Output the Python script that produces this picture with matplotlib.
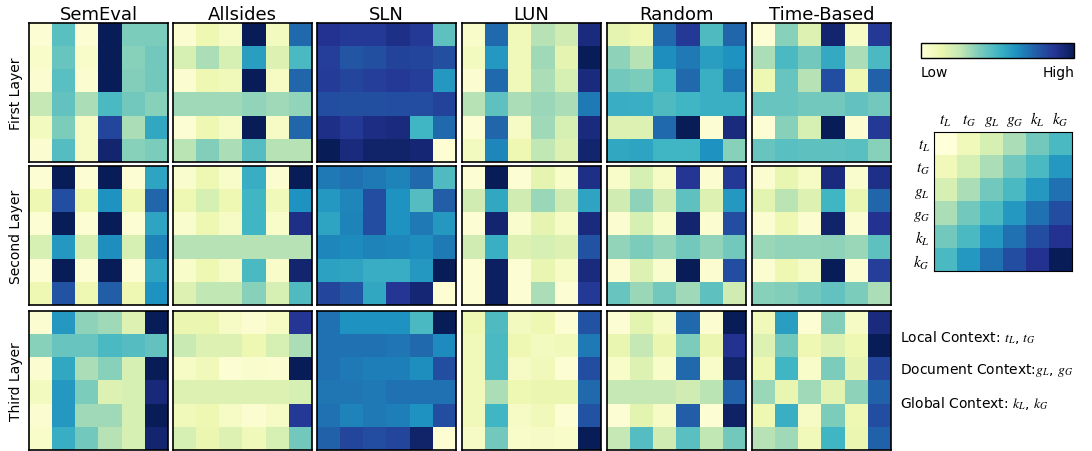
import numpy as np
import matplotlib
matplotlib.use('Agg')
from matplotlib import pyplot as plt

plt.rcParams['mathtext.fontset'] = 'stix'

datasets = ['SemEval', 'Allsides', 'SLN', 'LUN', 'Random', 'Time-Based']
layers = ['First Layer', 'Second Layer', 'Third Layer']

# attention maps, one 6x6 per (layer, dataset)
first_layer = [
    [[0.02, 0.45, 0.02, 1.0, 0.38, 0.38],
     [0.05, 0.42, 0.05, 1.0, 0.36, 0.40],
     [0.03, 0.45, 0.03, 1.0, 0.37, 0.40],
     [0.25, 0.43, 0.30, 0.48, 0.40, 0.36],
     [0.08, 0.38, 0.06, 0.82, 0.30, 0.55],
     [0.03, 0.46, 0.06, 0.95, 0.36, 0.38]],
    [[0.03, 0.12, 0.06, 1.0, 0.08, 0.72],
     [0.20, 0.30, 0.20, 0.58, 0.18, 0.48],
     [0.03, 0.12, 0.10, 1.0, 0.07, 0.73],
     [0.32, 0.32, 0.32, 0.34, 0.32, 0.34],
     [0.02, 0.12, 0.06, 1.0, 0.06, 0.73],
     [0.27, 0.37, 0.30, 0.46, 0.28, 0.28]],
    [[0.88, 0.86, 0.86, 0.90, 0.86, 0.44],
     [0.84, 0.77, 0.79, 0.83, 0.82, 0.79],
     [0.85, 0.82, 0.84, 0.86, 0.84, 0.60],
     [0.80, 0.79, 0.79, 0.80, 0.80, 0.83],
     [0.90, 0.86, 0.91, 0.92, 0.50, 0.72],
     [1.00, 0.92, 0.96, 0.96, 0.94, 0.02]],
    [[0.05, 0.72, 0.10, 0.28, 0.22, 0.92],
     [0.08, 0.60, 0.10, 0.32, 0.15, 1.00],
     [0.03, 0.72, 0.10, 0.30, 0.20, 0.92],
     [0.28, 0.44, 0.30, 0.33, 0.30, 0.68],
     [0.02, 0.73, 0.06, 0.32, 0.20, 0.92],
     [0.08, 0.65, 0.12, 0.26, 0.18, 0.95]],
    [[0.15, 0.12, 0.72, 0.86, 0.47, 0.73],
     [0.35, 0.28, 0.63, 0.68, 0.58, 0.62],
     [0.40, 0.38, 0.50, 0.72, 0.52, 0.68],
     [0.53, 0.52, 0.47, 0.50, 0.52, 0.52],
     [0.18, 0.18, 0.72, 1.00, 0.02, 0.92],
     [0.55, 0.56, 0.50, 0.50, 0.62, 0.36]],
    [[0.02, 0.36, 0.18, 0.95, 0.06, 0.86],
     [0.30, 0.48, 0.40, 0.54, 0.30, 0.48],
     [0.12, 0.42, 0.28, 0.80, 0.12, 0.74],
     [0.42, 0.42, 0.40, 0.40, 0.43, 0.40],
     [0.02, 0.36, 0.20, 1.00, 0.03, 0.86],
     [0.42, 0.45, 0.44, 0.44, 0.45, 0.36]],
]

second_layer = [
    [[0.02, 1.00, 0.02, 1.00, 0.02, 0.56],
     [0.12, 0.80, 0.12, 0.62, 0.12, 0.73],
     [0.02, 1.00, 0.02, 1.00, 0.02, 0.56],
     [0.20, 0.60, 0.20, 0.63, 0.20, 0.66],
     [0.02, 1.00, 0.02, 1.00, 0.02, 0.56],
     [0.12, 0.78, 0.12, 0.75, 0.12, 0.62]],
    [[0.04, 0.12, 0.05, 0.53, 0.03, 1.00],
     [0.12, 0.20, 0.12, 0.50, 0.10, 0.62],
     [0.04, 0.12, 0.06, 0.50, 0.05, 0.90],
     [0.28, 0.28, 0.28, 0.28, 0.28, 0.28],
     [0.05, 0.12, 0.06, 0.48, 0.05, 0.95],
     [0.18, 0.26, 0.26, 0.36, 0.20, 0.47]],
    [[0.68, 0.70, 0.68, 0.66, 0.72, 0.47],
     [0.60, 0.65, 0.80, 0.62, 0.46, 0.75],
     [0.56, 0.66, 0.80, 0.62, 0.68, 0.60],
     [0.65, 0.64, 0.66, 0.65, 0.63, 0.68],
     [0.57, 0.56, 0.53, 0.53, 0.60, 1.00],
     [0.82, 0.77, 0.55, 0.87, 0.94, 0.02]],
    [[0.02, 1.00, 0.02, 0.15, 0.05, 0.90],
     [0.22, 0.55, 0.22, 0.33, 0.22, 0.56],
     [0.02, 0.95, 0.04, 0.15, 0.06, 0.92],
     [0.22, 0.52, 0.18, 0.20, 0.18, 0.78],
     [0.02, 0.98, 0.02, 0.14, 0.06, 0.92],
     [0.02, 0.98, 0.02, 0.30, 0.02, 0.86]],
    [[0.05, 0.20, 0.06, 0.87, 0.03, 0.86],
     [0.22, 0.35, 0.22, 0.44, 0.18, 0.60],
     [0.03, 0.20, 0.05, 0.95, 0.03, 0.80],
     [0.34, 0.38, 0.34, 0.40, 0.34, 0.40],
     [0.03, 0.18, 0.04, 1.00, 0.03, 0.80],
     [0.42, 0.33, 0.40, 0.32, 0.44, 0.22]],
    [[0.03, 0.14, 0.06, 0.92, 0.04, 0.90],
     [0.16, 0.27, 0.18, 0.50, 0.14, 0.73],
     [0.03, 0.12, 0.03, 0.96, 0.03, 0.88],
     [0.33, 0.34, 0.34, 0.35, 0.33, 0.44],
     [0.03, 0.12, 0.06, 1.00, 0.03, 0.84],
     [0.36, 0.37, 0.40, 0.43, 0.38, 0.30]],
]

third_layer = [
    [[0.03, 0.60, 0.35, 0.32, 0.18, 1.00],
     [0.36, 0.42, 0.42, 0.48, 0.46, 0.43],
     [0.03, 0.55, 0.30, 0.36, 0.20, 1.00],
     [0.08, 0.60, 0.38, 0.18, 0.20, 0.93],
     [0.03, 0.60, 0.32, 0.32, 0.20, 1.00],
     [0.05, 0.53, 0.40, 0.28, 0.20, 0.95]],
    [[0.13, 0.13, 0.06, 0.03, 0.07, 0.87],
     [0.24, 0.18, 0.18, 0.12, 0.20, 0.30],
     [0.06, 0.10, 0.02, 0.04, 0.03, 1.00],
     [0.18, 0.18, 0.18, 0.18, 0.18, 0.20],
     [0.10, 0.12, 0.06, 0.03, 0.06, 0.86],
     [0.20, 0.13, 0.18, 0.10, 0.20, 0.40]],
    [[0.70, 0.62, 0.62, 0.62, 0.48, 1.00],
     [0.70, 0.70, 0.70, 0.69, 0.72, 0.64],
     [0.70, 0.68, 0.67, 0.67, 0.63, 0.80],
     [0.69, 0.69, 0.68, 0.70, 0.70, 0.70],
     [0.70, 0.66, 0.68, 0.67, 0.62, 0.80],
     [0.74, 0.82, 0.80, 0.82, 0.96, 0.02]],
    [[0.12, 0.47, 0.08, 0.12, 0.02, 0.78],
     [0.10, 0.48, 0.12, 0.08, 0.10, 0.68],
     [0.10, 0.48, 0.06, 0.10, 0.02, 0.80],
     [0.10, 0.30, 0.12, 0.13, 0.13, 0.72],
     [0.10, 0.50, 0.06, 0.10, 0.02, 0.78],
     [0.06, 0.40, 0.05, 0.06, 0.05, 1.00]],
    [[0.02, 0.16, 0.06, 0.72, 0.03, 1.00],
     [0.14, 0.25, 0.13, 0.38, 0.13, 0.88],
     [0.05, 0.18, 0.05, 0.72, 0.05, 0.96],
     [0.25, 0.25, 0.25, 0.22, 0.27, 0.74],
     [0.02, 0.16, 0.06, 0.75, 0.02, 0.97],
     [0.25, 0.46, 0.22, 0.45, 0.26, 0.40]],
    [[0.10, 0.58, 0.02, 0.37, 0.06, 0.92],
     [0.18, 0.40, 0.12, 0.18, 0.12, 1.00],
     [0.12, 0.50, 0.05, 0.38, 0.15, 0.82],
     [0.33, 0.14, 0.32, 0.16, 0.35, 0.74],
     [0.12, 0.52, 0.06, 0.38, 0.12, 0.80],
     [0.28, 0.32, 0.10, 0.50, 0.13, 0.74]],
]

key_labels = [r'$t_L$', r'$t_G$', r'$g_L$', r'$g_G$', r'$k_L$', r'$k_G$']
key_values = [
    [0.00, 0.10, 0.20, 0.30, 0.40, 0.48],
    [0.10, 0.20, 0.30, 0.40, 0.48, 0.60],
    [0.20, 0.30, 0.40, 0.48, 0.60, 0.70],
    [0.30, 0.40, 0.48, 0.60, 0.70, 0.80],
    [0.40, 0.48, 0.60, 0.70, 0.80, 0.88],
    [0.48, 0.60, 0.70, 0.80, 0.88, 1.00],
]
context_lines = ['Local Context: $t_L$, $t_G$',
                 'Document Context:$g_L$, $g_G$',
                 'Global Context: $k_L$, $k_G$']

cmap = 'YlGnBu'
W, H = 1092., 452.
fig = plt.figure(figsize=(W/100., H/100.), dpi=100)

x0s = [29, 173, 317, 462, 607, 752]
y0s = [24, 167, 312]
pw = 139
ph = 139

all_layers = [first_layer, second_layer, third_layer]
for r in range(3):
    for c in range(6):
        ax = fig.add_axes([x0s[c]/W, 1-(y0s[r]+ph)/H, pw/W, ph/H])
        ax.imshow(np.array(all_layers[r][c]), cmap=cmap, vmin=0, vmax=1,
                  aspect='auto', interpolation='nearest')
        ax.set_xticks([])
        ax.set_yticks([])
        for axis in ['top', 'bottom', 'left', 'right']:
            ax.spines[axis].set_linewidth(1.2)
        if r == 0:
            ax.set_title(datasets[c], fontsize=13, pad=3)
        if c == 0:
            ax.set_ylabel(layers[r], fontsize=10, labelpad=4)

# colour bar
cax = fig.add_axes([921/W, 1-59/H, 153/W, 15/H])
sm = plt.cm.ScalarMappable(cmap=cmap, norm=plt.Normalize(0, 1))
cb = fig.colorbar(sm, cax=cax, orientation='horizontal')
cb.set_ticks([])
cb.outline.set_linewidth(1.0)
fig.text(921/W, 1-73/H, 'Low', fontsize=10, ha='left', va='center')
fig.text(1074/W, 1-73/H, 'High', fontsize=10, ha='right', va='center')

# key heatmap
kax = fig.add_axes([934/W, 1-272/H, 138/W, 139/H])
kax.imshow(np.array(key_values), cmap=cmap, vmin=0, vmax=1, aspect='auto',
           interpolation='nearest')
kax.set_xticks(range(6))
kax.set_xticklabels(key_labels, fontsize=11)
kax.set_yticks(range(6))
kax.set_yticklabels(key_labels, fontsize=11)
kax.xaxis.tick_top()
kax.tick_params(length=0, pad=3)

for i, line in enumerate(context_lines):
    fig.text(900/W, 1-(338+33*i)/H, line, fontsize=10, ha='left', va='center')

fig.savefig('out.png', dpi=100)
